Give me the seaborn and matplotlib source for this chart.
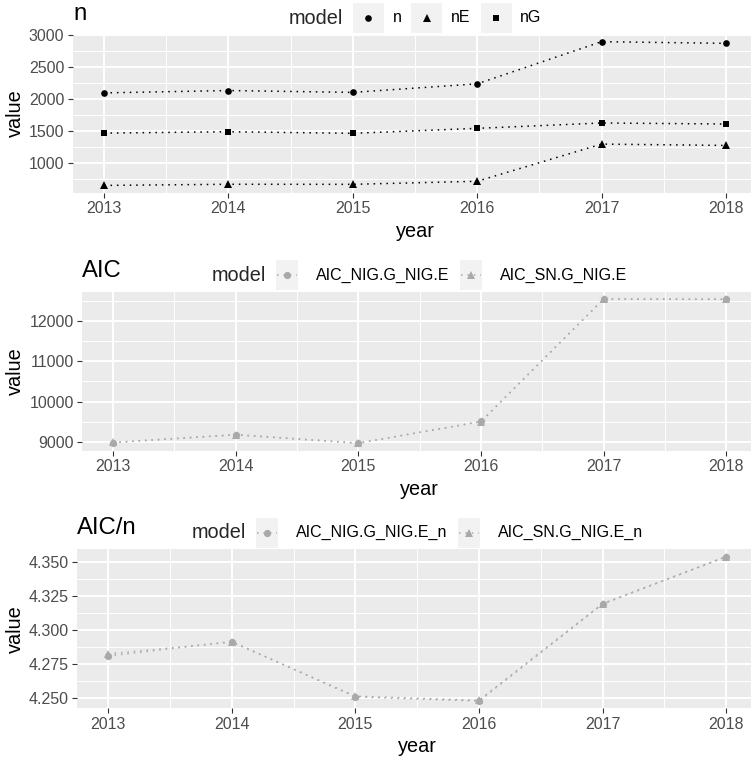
import matplotlib
matplotlib.use("Agg")
import matplotlib.pyplot as plt
import numpy as np
import pandas as pd
import seaborn as sns
from matplotlib.ticker import MultipleLocator, FormatStrFormatter
from matplotlib.lines import Line2D
from matplotlib.patches import Rectangle
from matplotlib.transforms import blended_transform_factory

# ---- data -------------------------------------------------------------
years = [2013, 2014, 2015, 2016, 2017, 2018]

n_total = [2097, 2134, 2105, 2239, 2900, 2874]
n_E = [646, 664, 663, 711, 1294, 1273]
n_G = [1466, 1488, 1463, 1541, 1625, 1609]

aic_nig = [8985, 9178, 8968, 9508, 12542, 12535]
aic_sn = [8990, 9182, 8975, 9504, 12545, 12537]

aicn_nig = [4.2812, 4.2918, 4.2512, 4.2481, 4.3193, 4.3540]
aicn_sn = [4.2827, 4.2914, 4.2517, 4.2486, 4.3196, 4.3542]

# ---- style ------------------------------------------------------------
sns.set_theme(style="darkgrid", rc={
    "axes.facecolor": "#EBEBEB",
    "grid.color": "white",
    "figure.facecolor": "white",
})
plt.rcParams["font.family"] = ["Liberation Sans", "DejaVu Sans"]

TICK_FS = 11.5
AXIS_FS = 14.3
TITLE_FS = 17.2
LEG_TITLE_FS = 14.3
LEG_TEXT_FS = 11.5

W, H = 751, 758
fig = plt.figure(figsize=(W / 100, H / 100), dpi=100)

BLACK = "black"
GREY = "#A9A9A9"
DOT = (0, (1, 3.2))


def px_axes(left, right, top, bottom):
    return fig.add_axes([left / W, 1 - bottom / H, (right - left) / W, (bottom - top) / H])


def draw_panel(ax, series, title, major, minor, fmt, color, box):
    allv = []
    for label, vals, marker, ms in series:
        d = pd.DataFrame({"year": years, "value": vals})
        sns.lineplot(data=d, x="year", y="value", ax=ax, color=color,
                     marker=marker, markersize=ms, markeredgewidth=0,
                     linestyle=DOT, linewidth=1.1, legend=False)
        allv.extend(vals)
    lo, hi = min(allv), max(allv)
    pad = (hi - lo) * 0.05
    ax.set_ylim(lo - pad, hi + pad)
    span = years[-1] - years[0]
    ax.set_xlim(years[0] - 0.05 * span, years[-1] + 0.05 * span)
    ax.set_xticks(years)
    ax.xaxis.set_minor_locator(MultipleLocator(0.5))
    ax.yaxis.set_major_locator(MultipleLocator(major))
    ax.yaxis.set_minor_locator(MultipleLocator(minor))
    ax.yaxis.set_major_formatter(FormatStrFormatter(fmt))
    ax.grid(which="major", color="white", linewidth=1.4)
    ax.grid(which="minor", color="white", linewidth=0.7)
    ax.set_axisbelow(True)
    for s in ax.spines.values():
        s.set_visible(False)
    ax.tick_params(which="major", length=3.46, width=0.8, color="#333333",
                   labelsize=TICK_FS, labelcolor="#4D4D4D", pad=2.7,
                   bottom=True, left=True)
    ax.tick_params(which="minor", length=0)
    ax.set_xlabel("year", fontsize=AXIS_FS, color="black")
    ax.set_ylabel("value", fontsize=AXIS_FS, color="black")
    left, right, top, bottom = box
    ax.yaxis.set_label_coords(15 / W, 0.5,
                              transform=blended_transform_factory(fig.transFigure, ax.transAxes))
    ax.yaxis.label.set_verticalalignment("center")
    ax.xaxis.set_label_coords(0.5, 1 - (bottom + 38.5) / H,
                              transform=blended_transform_factory(ax.transAxes, fig.transFigure))
    ax.xaxis.label.set_verticalalignment("center")
    fig.text(left / W, 1 - (top - 15) / H, title, fontsize=TITLE_FS,
             ha="left", va="baseline", color="black")


def draw_legend(renderer, box, items, color, key_w, gap_kl, gap_lk, with_line):
    left, right, top, bottom = box
    cx = (left + right) / 2
    cy = top - 16.5
    key_h = 30
    fy = 1 - cy / H
    title = fig.text(0, fy, "model", fontsize=LEG_TITLE_FS, ha="left", va="center")
    tw = title.get_window_extent(renderer).width
    texts, widths = [], []
    for name, marker, ms in items:
        t = fig.text(0, fy, name, fontsize=LEG_TEXT_FS, ha="left", va="center", color="black")
        texts.append(t)
        widths.append(t.get_window_extent(renderer).width)
    total = tw + 10 + sum(key_w + gap_kl + w for w in widths) + gap_lk * (len(items) - 1)
    x = cx - total / 2
    title.set_x(x / W)
    x += tw + 10
    for (name, marker, ms), t, w in zip(items, texts, widths):
        fig.add_artist(Rectangle((x / W, 1 - (cy + key_h / 2) / H), key_w / W, key_h / H,
                                 transform=fig.transFigure, facecolor="#F2F2F2",
                                 edgecolor="none"))
        if with_line:
            fig.add_artist(Line2D([(x + 1) / W, (x + key_w - 1) / W], [fy, fy],
                                  transform=fig.transFigure, color=color,
                                  linewidth=1.1, linestyle=DOT))
        fig.add_artist(Line2D([(x + key_w / 2) / W], [fy], transform=fig.transFigure,
                              marker=marker, markersize=ms, markeredgewidth=0,
                              color=color, linestyle="none"))
        x += key_w + gap_kl
        t.set_x(x / W)
        x += w + gap_lk


boxes = [
    (73, 757, 34.5, 192.6),
    (82.3, 757, 291.7, 450.5),
    (77.3, 757, 549.3, 708.3),
]

ax1 = px_axes(*boxes[0])
ax2 = px_axes(*boxes[1])
ax3 = px_axes(*boxes[2])

s1 = [("n", n_total, "o", 4.8), ("nE", n_E, "^", 5.5), ("nG", n_G, "s", 4.6)]
s2 = [("AIC_NIG.G_NIG.E", aic_nig, "o", 5.2), ("AIC_SN.G_NIG.E", aic_sn, "^", 5.8)]
s3 = [("AIC_NIG.G_NIG.E_n", aicn_nig, "o", 5.2), ("AIC_SN.G_NIG.E_n", aicn_sn, "^", 5.8)]

draw_panel(ax1, s1, "n", 500, 250, "%d", BLACK, boxes[0])
draw_panel(ax2, s2, "AIC", 1000, 500, "%d", GREY, boxes[1])
draw_panel(ax3, s3, "AIC/n", 0.025, 0.0125, "%.3f", GREY, boxes[2])

renderer = fig.canvas.get_renderer()
draw_legend(renderer, boxes[0], [(l, m, ms) for l, _, m, ms in s1], BLACK, 31, 8.7, 10, False)
draw_legend(renderer, boxes[1], [(l, m, ms) for l, _, m, ms in s2], GREY, 22, 18, 11, True)
draw_legend(renderer, boxes[2], [(l, m, ms) for l, _, m, ms in s3], GREY, 22, 18, 11, True)

fig.savefig("out.png", dpi=100)
